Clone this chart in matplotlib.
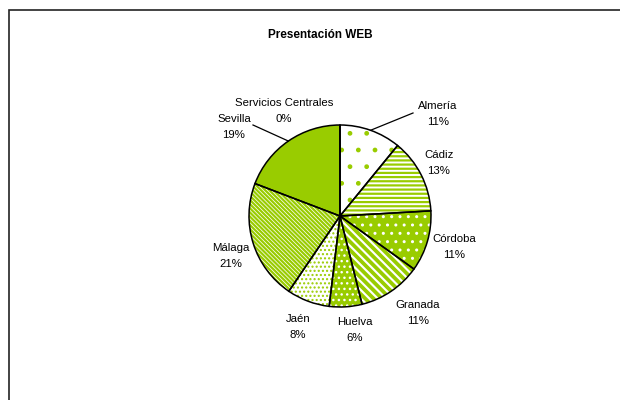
import matplotlib
matplotlib.use("Agg")
import matplotlib.pyplot as plt
import matplotlib.patches as patches
import numpy as np

plt.rcParams['font.family'] = ['Liberation Sans', 'DejaVu Sans']

# datos
provincias = ["Servicios Centrales", "Almería", "Cádiz", "Córdoba", "Granada",
              "Huelva", "Jaén", "Málaga", "Sevilla"]
valores = [0.0, 10.9, 13.2, 10.8, 11.2, 5.8, 7.6, 21.3, 19.2]
titulo = "Presentación WEB"

# estilo de cada porción: (fondo, trama, color trama, grosor trama)
verde = "#99CC00"
tramas = [
    ("white", None, verde, 1.0),
    ("white", ".", verde, 1.0),
    ("white", "----", verde, 1.6),
    (verde, "..", "white", 1.0),
    ("white", "\\" * 4, verde, 2.7),
    (verde, "...", "white", 1.0),
    ("white", "....", verde, 1.0),
    ("white", "\\" * 8, verde, 1.6),
    (verde, None, verde, 1.0),
]

# posicion de las etiquetas en pixeles (x, y desde arriba)
pos_etiquetas = [(284, 111), (438, 114), (439, 163), (454, 247), (418, 313),
                 (355, 330), (298, 327), (231, 256), (234, 127)]
# fin de las lineas guia (solo Almería y Sevilla)
guias = {1: (413, 113), 8: (253, 125)}

W, H = 620, 400
centro = (340, H - 216)
radio = 91

fig = plt.figure(figsize=(6.2, 4.0), dpi=100)
ax = fig.add_axes([0, 0, 1, 1])

wedges, _ = ax.pie(valores, startangle=90, counterclock=False,
                   center=centro, radius=radio,
                   wedgeprops=dict(linewidth=0))

for w, (fondo, trama, ctrama, lw) in zip(wedges, tramas):
    w.set_facecolor(fondo)
    w.set_edgecolor(ctrama)
    w.set_linewidth(0)
    if trama:
        w.set_hatch(trama)
        if hasattr(w, "set_hatch_linewidth"):
            w.set_hatch_linewidth(lw)
    # contorno negro encima
    borde = patches.Wedge(w.center, w.r, w.theta1, w.theta2, fill=False,
                          edgecolor="black", linewidth=1.1)
    ax.add_patch(borde)

total = sum(valores)
for i, (nombre, v) in enumerate(zip(provincias, valores)):
    x, y = pos_etiquetas[i]
    ax.text(x, H - y, "%s\n%d%%" % (nombre, round(v / total * 100)),
            ha="center", va="center", fontsize=8.2, linespacing=1.85)
    if i in guias:
        w = wedges[i]
        ang = np.deg2rad((w.theta1 + w.theta2) / 2)
        x0 = centro[0] + radio * np.cos(ang)
        y0 = centro[1] + radio * np.sin(ang)
        gx, gy = guias[i]
        ax.plot([x0, gx], [y0, H - gy], color="black", lw=0.9)

ax.text(320, H - 35, titulo, ha="center", va="center", fontsize=8.5,
        fontweight="bold")

# marco del grafico (cortado por la imagen)
ax.add_patch(patches.Rectangle((8.5, -20), 700, H - 9.5 + 20, fill=False,
                               edgecolor="#222222", linewidth=1.2))

ax.set_xlim(0, W)
ax.set_ylim(0, H)
ax.set_aspect("equal")
ax.axis("off")

fig.savefig("out.png", dpi=100)
